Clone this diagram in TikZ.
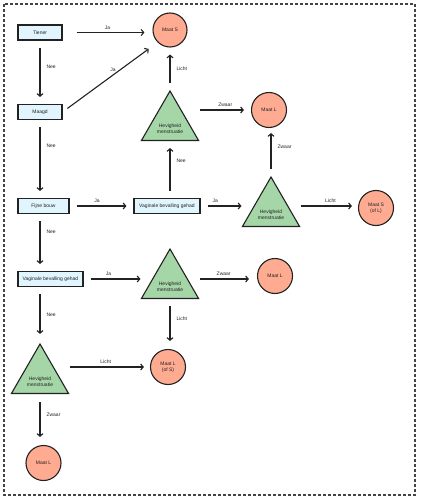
\documentclass[tikz,border=0pt]{standalone}
\usepackage{fontspec}
\setmainfont{Liberation Sans}
\usetikzlibrary{arrows.meta,shapes.geometric}
\definecolor{boxfill}{HTML}{E1F5FE}
\definecolor{circfill}{HTML}{FFAB91}
\definecolor{trifill}{HTML}{A5D6A7}
\definecolor{edge}{HTML}{222222}
\tikzset{
  txt/.style={font=\fontsize{5}{6}\selectfont, text=edge},
  qbox/.style={txt, draw=edge, line width=1.1pt, fill=boxfill, minimum height=15pt, inner sep=1pt},
  endc/.style={txt, circle, draw=edge, line width=1.1pt, fill=circfill, minimum size=35pt, inner sep=0pt, align=center},
  tri/.style={regular polygon, regular polygon sides=3, draw=edge, line width=1.1pt, fill=trifill, minimum size=66pt, inner sep=0pt},
  arr/.style={draw=edge, line width=1.1pt, -{Straight Barb[length=2.6pt,width=6pt]}},
  lab/.style={txt, inner sep=1pt},
}
\newcommand{\hevig}{\fontsize{5}{6.5}\selectfont Hevigheid\\menstruatie}
\begin{document}
\begin{tikzpicture}[x=1pt,y=-1pt]
\useasboundingbox (0,0) rectangle (420,500);
\draw[draw=edge!85, line width=1.3pt, dash pattern=on 3pt off 2pt] (4,4) rectangle (415,495);

% boxes
\node[qbox, minimum width=44pt] (tiener) at (40,32.5) {Tiener};
\node[qbox, minimum width=44pt] (maagd) at (40,112) {Maagd};
\node[qbox, minimum width=51pt] (fijne) at (43.5,206) {Fijne bouw};
\node[qbox, minimum width=66pt] (vagA) at (167,206) {Vaginale bevalling gehad};
\node[qbox, minimum width=65pt] (vagB) at (50.5,279) {Vaginale bevalling gehad};

% circles
\node[endc, minimum size=34pt] (ms) at (170,30) {Maat S};
\node[endc] (mlA) at (269,110) {Maat L};
\node[endc] (mso) at (376,208) {Maat S\\(of L)};
\node[endc] (mlB) at (275,276) {Maat L};
\node[endc] (mlos) at (168,367) {Maat L\\(of S)};
\node[endc] (mlC) at (43.5,463) {Maat L};

% triangles
\node[tri, label={[txt, align=center, yshift=-4.5pt]center:\hevig}] (tA) at (170,124) {};
\node[tri, label={[txt, align=center, yshift=-5pt]center:\hevig}] (tB) at (271,210) {};
\node[tri, label={[txt, align=center, yshift=-4.5pt]center:\hevig}] (tC) at (170,282) {};
\node[tri, label={[txt, align=center, yshift=-4.5pt]center:\hevig}] (tD) at (40,377) {};

% connectors
\draw[arr, shorten <=14pt, shorten >=8pt] (tiener.east) -- node[lab, midway, above=1.5pt] {Ja} (ms.west |- tiener);
\draw[arr, shorten <=7pt, shorten >=7pt] (tiener.south) -- node[lab, pos=0.42, right=5pt] {Nee} (maagd.north);
\draw[arr, shorten <=6pt, shorten >=11pt] (maagd.east) -- node[lab, pos=0.53, above=2pt] {Ja} (ms.south west);
\draw[arr, shorten <=7pt, shorten >=7pt] (maagd.south) -- node[lab, pos=0.33, right=5pt] {Nee} (maagd.south |- fijne.north);

\draw[arr, shorten <=7pt, shorten >=7pt] (tA.corner 1) -- node[lab, midway, right=5pt] {Licht} (ms.south);
\draw[arr, shorten >=7pt] (tA.corner 3 |- mlA) -- node[lab, pos=0.5, above=1.5pt] {Zwaar} (mlA.west);
\draw[arr, shorten <=7pt, shorten >=7pt] (tA |- vagA.north) -- node[lab, pos=0.65, right=5pt] {Nee} (tA |- tA.corner 2);

\draw[arr, shorten <=7pt, shorten >=7pt] (fijne.east) -- node[lab, pos=0.43, above=1.5pt] {Ja} (vagA.west);
\draw[arr, shorten <=7pt] (vagA.east) -- node[lab, pos=0.36, above=1.5pt] {Ja} (tB.corner 2 |- vagA);
\draw[arr, shorten <=7pt, shorten >=5pt] (tB.corner 1) -- node[lab, pos=0.6, right=5pt] {Zwaar} (tB.corner 1 |- mlA.south);
\draw[arr, shorten >=6pt] (tB.corner 3 |- vagA) -- node[lab, pos=0.52, above=1.5pt] {Licht} (mso.west |- vagA);

\draw[arr, shorten <=7pt, shorten >=7pt] (tiener |- fijne.south) -- node[lab, pos=0.32, right=5pt] {Nee} (tiener |- vagB.north);
\draw[arr, shorten <=7pt] (vagB.east) -- node[lab, pos=0.44, above=1.5pt] {Ja} (tC.corner 2 |- vagB);
\draw[arr, shorten >=8pt] (tC.corner 3 |- vagB) -- node[lab, pos=0.42, above=1.5pt] {Zwaar} (mlB.west |- vagB);
\draw[arr, shorten <=7pt, shorten >=8pt] (tC |- tC.corner 2) -- node[lab, pos=0.4, right=5pt] {Licht} (tC |- mlos.north);

\draw[arr, shorten <=7pt, shorten >=9pt] (tiener |- vagB.south) -- node[lab, pos=0.5, right=5pt] {Nee} (tD.corner 1);
\draw[arr, shorten >=6pt] (tD.corner 3 |- mlos) -- node[lab, pos=0.45, above=1.5pt] {Licht} (mlos.west);
\draw[arr, shorten <=8pt, shorten >=8pt] (tD |- tD.corner 2) -- node[lab, pos=0.4, right=5pt] {Zwaar} (tD |- mlC.north);
\end{tikzpicture}
\end{document}
